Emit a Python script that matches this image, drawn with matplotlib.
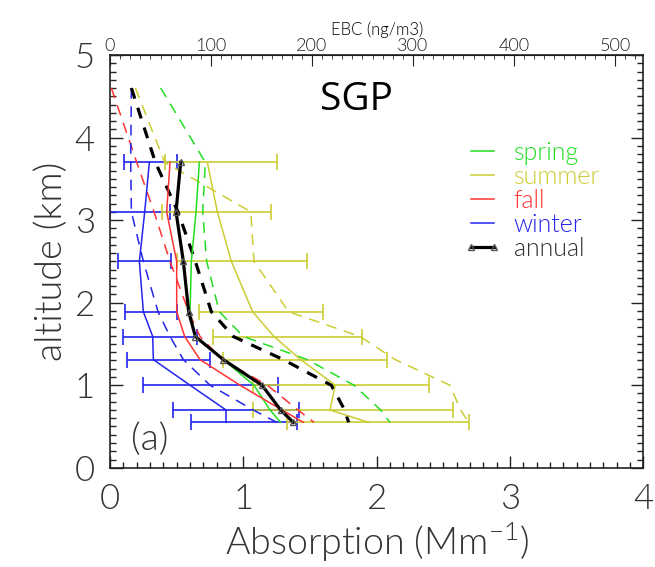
import numpy as np
import matplotlib
matplotlib.use("Agg")
import matplotlib.pyplot as plt
from matplotlib.lines import Line2D
from matplotlib.ticker import MultipleLocator, FixedLocator

# flight levels (km)
alt = [3.70, 3.10, 2.50, 1.89, 1.59, 1.31, 1.00, 0.70, 0.55]
alt_dash = [4.60] + alt

# solid lines (Mm-1)
spring = [0.67, 0.645, 0.61, 0.60, 0.64, 0.85, 1.08, 1.20, 1.28]
summer = [0.73, 0.805, 0.91, 1.07, 1.23, 1.43, 1.69, 1.65, 1.94]
fall = [0.45, 0.425, 0.50, 0.50, 0.56, 0.675, 0.975, 1.29, 1.45]
winter = [0.295, 0.26, 0.22, 0.25, 0.32, 0.325, 0.60, 0.87, 0.87]
annual = [0.53, 0.495, 0.55, 0.59, 0.64, 0.85, 1.14, 1.28, 1.375]

# dashed lines (Mm-1), first value is the 4.6 km level
spring_d = [0.38, 0.715, 0.695, 0.725, 0.82, 1.00, 1.48, 1.83, 2.03, 2.10]
summer_d = [0.19, 0.41, 1.056, 1.08, 1.34, 1.876, 2.14, 2.55, 2.63, 2.69]
fall_d = [0.01, 0.20, 0.33, 0.45, 0.59, 0.675, 0.84, 1.18, 1.41, 1.53]
winter_d = [0.16, 0.155, 0.16, 0.25, 0.36, 0.45, 0.55, 0.75, 1.075, 1.25]
annual_d = [0.16, 0.34, 0.51, 0.64, 0.76, 0.925, 1.30, 1.66, 1.76, 1.79]

# error bar ranges
winter_lo = [0.105, 0.0, 0.06, 0.11, 0.10, 0.125, 0.25, 0.47, 0.61]
winter_hi = [0.505, 0.45, 0.455, 0.50, 0.65, 0.75, 1.26, 1.42, 1.40]
summer_lo = [0.41, 0.39, 0.50, 0.67, 0.775, 0.85, 1.075, 1.07, 1.33]
summer_hi = [1.25, 1.21, 1.48, 1.60, 1.89, 2.08, 2.39, 2.57, 2.69]

ebc_ticks = [0, 100, 200, 300, 400, 500]

c_spring = "#22dd22"
c_summer = "#cccc33"
c_fall = "#ff3333"
c_winter = "#2424ee"
c_text = "#333333"

plt.rcParams["font.family"] = ["Lato", "DejaVu Sans"]
plt.rcParams["font.weight"] = 300
plt.rcParams["axes.labelweight"] = 300
plt.rcParams["mathtext.default"] = "regular"

fig = plt.figure(figsize=(6.55, 5.67), dpi=100)
ax = fig.add_axes([0.168, 0.175, 0.814, 0.728])

# error bars
for mid, lo, hi, c in [(winter, winter_lo, winter_hi, c_winter),
                       (summer, summer_lo, summer_hi, c_summer)]:
    mid = np.array(mid)
    err = [mid - np.array(lo), np.array(hi) - mid]
    ax.errorbar(mid, alt, xerr=err, fmt="none", ecolor=c, elinewidth=1.2,
                capsize=6, capthick=1.2)

# dashed lines
for x, c in [(spring_d, c_spring), (summer_d, c_summer),
             (fall_d, c_fall), (winter_d, c_winter)]:
    ax.plot(x, alt_dash, color=c, lw=1.1, dashes=(7, 5))
ax.plot(annual_d, alt_dash, color="black", lw=2.3, dashes=(3.5, 3))

# solid lines
for x, c in [(spring, c_spring), (summer, c_summer),
             (fall, c_fall), (winter, c_winter)]:
    ax.plot(x, alt, color=c, lw=1.1)
ax.plot(annual, alt, color="black", lw=2.3, marker="^", ms=4,
        mfc="none", mec="#555555")

ax.set_xlim(0, 4)
ax.set_ylim(0, 5)
ax.xaxis.set_major_locator(MultipleLocator(1))
ax.xaxis.set_minor_locator(MultipleLocator(0.1))
ax.yaxis.set_major_locator(MultipleLocator(1))
ax.yaxis.set_minor_locator(MultipleLocator(0.1))
ax.tick_params(which="both", direction="in", right=True, top=False,
               width=1.0, colors="#222222")
ax.tick_params(which="major", length=9, labelsize=25, pad=11)
ax.tick_params(which="minor", length=4)
ax.tick_params(axis="both", labelcolor=c_text)
for s in ax.spines.values():
    s.set_linewidth(1.2)
    s.set_color("#222222")

ax.set_xlabel("Absorption (Mm$^{-1}$)", fontsize=27, color=c_text,
              labelpad=4)
ax.set_ylabel("altitude (km)", fontsize=27, color=c_text, labelpad=4)

# top EBC axis
mac = 132.0
top = ax.secondary_xaxis("top", functions=(lambda v: v * mac,
                                           lambda v: v / mac))
top.xaxis.set_major_locator(FixedLocator(ebc_ticks))
top.xaxis.set_minor_locator(FixedLocator(np.arange(0, 521, 10)))
top.tick_params(which="both", direction="in", colors="#222222")
top.tick_params(which="major", length=8, labelsize=13, pad=1)
top.tick_params(which="minor", length=3)
top.set_xlabel("EBC (ng/m3)", fontsize=12, labelpad=2)

ax.text(0.463, 0.89, "SGP", transform=ax.transAxes, fontsize=28,
        family=["Open Sans", "DejaVu Sans"], fontweight="normal",
        ha="center", va="center")
ax.text(0.075, 0.068, "(a)", transform=ax.transAxes, fontsize=27,
        color=c_text, ha="center", va="center")

handles = [
    Line2D([], [], color=c_spring, lw=1.1),
    Line2D([], [], color=c_summer, lw=1.1),
    Line2D([], [], color=c_fall, lw=1.1),
    Line2D([], [], color=c_winter, lw=1.1),
    Line2D([], [], color="black", lw=2.3, marker="^", ms=4, mfc="none",
           mec="#555555"),
]
labels = ["spring", "summer", "fall", "winter", "annual"]
leg = ax.legend(handles, labels, loc="upper left", bbox_to_anchor=(0.64, 0.822),
                frameon=False, fontsize=18, handlelength=1.5, handletextpad=0.5,
                labelspacing=0.0, numpoints=2, borderpad=0)
cols = [c_spring, c_summer, c_fall, c_winter, c_text]
for t, c in zip(leg.get_texts(), cols):
    t.set_color(c)

fig.savefig("out.png", dpi=100)
